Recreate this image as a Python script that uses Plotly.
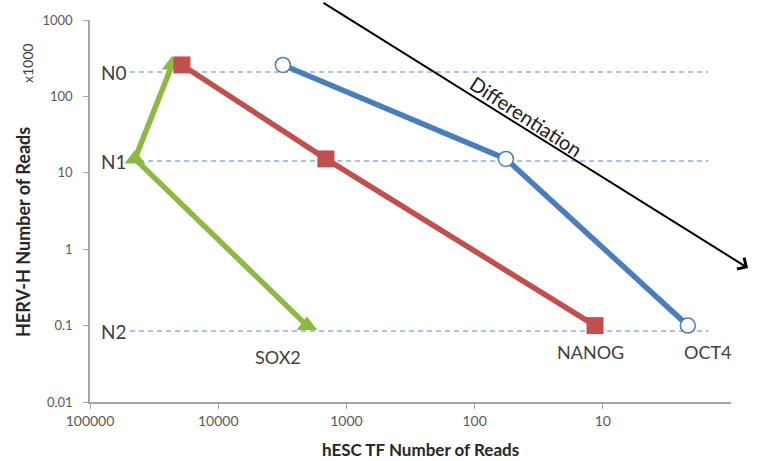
import plotly.graph_objects as go

# ---- data ----
sox2_x = [22900, 44600, 2030]
sox2_y = [258, 15.2, 0.1]
nanog_x = [19200, 1445, 11.5]
nanog_y = [258, 15.2, 0.1]
oct4_x = [3130, 57, 2.17]
oct4_y = [258, 15.2, 0.1]

level_names = ["N0", "N1", "N2"]
level_values = [208, 14.3, 0.085]
level_x_span = [48700, 1.5]

x_tick_vals = [100000, 10000, 1000, 100, 10]
x_tick_text = ["100000", "10000", "1000", "100", "10"]
y_tick_vals = [1000, 100, 10, 1, 0.1, 0.01]
y_tick_text = ["1000", "100", "10", "1", "0.1", "0.01"]

GREEN = "#8DB843"
RED = "#C0504D"
BLUE = "#4A7EBB"
DASH = "#8EAEDC"
FONT = "Lato"

L, R, T, B = 90, 27, 20, 59
W, H = 758, 461
PW, PH = W - L - R, H - T - B


def px(xp):
    return (xp - L) / PW


def py(yp):
    return (H - B - yp) / PH


fig = go.Figure()

for name, val in zip(level_names, level_values):
    fig.add_trace(go.Scatter(
        x=level_x_span, y=[val, val], mode="lines",
        line=dict(color=DASH, width=1.5, dash="5px,4px"),
        hoverinfo="skip", showlegend=False))

fig.add_trace(go.Scatter(
    x=sox2_x, y=sox2_y, mode="lines+markers", name="SOX2",
    line=dict(color=GREEN, width=5.5),
    marker=dict(symbol="triangle-up", size=18, color=GREEN),
    showlegend=False))
fig.add_trace(go.Scatter(
    x=nanog_x, y=nanog_y, mode="lines+markers", name="NANOG",
    line=dict(color=RED, width=5.5),
    marker=dict(symbol="square", size=17, color=RED),
    showlegend=False))
fig.add_trace(go.Scatter(
    x=oct4_x, y=oct4_y, mode="lines+markers", name="OCT4",
    line=dict(color=BLUE, width=5.5),
    marker=dict(symbol="circle", size=15, color="white",
                line=dict(color=BLUE, width=1.5)),
    showlegend=False))

annotations = []
# level labels
for name, yy in zip(level_names, [72, 161, 331]):
    annotations.append(dict(
        text=name, xref="paper", yref="paper",
        x=px(129), y=py(yy),
        xanchor="right", yanchor="middle", showarrow=False,
        font=dict(family=FONT, size=19, color="#404040")))

# series labels
for txt, xx, yy in [("SOX2", 278, 357), ("NANOG", 590, 352), ("OCT4", 708, 352)]:
    annotations.append(dict(
        text=txt, xref="paper", yref="paper",
        x=px(xx), y=py(yy),
        xanchor="center", yanchor="middle", showarrow=False,
        font=dict(family=FONT, size=18, color="#404040")))

# Differentiation arrow
annotations.append(dict(
    text="", xref="paper", yref="paper",
    x=px(748), y=py(268),
    ax=322 - 748, ay=2 - 268, axref="pixel", ayref="pixel",
    showarrow=True, arrowhead=4, arrowsize=1.3, arrowwidth=2,
    arrowcolor="black"))
annotations.append(dict(
    text="Differentiation", xref="paper", yref="paper",
    x=px(526), y=py(116),
    xanchor="center", yanchor="middle", showarrow=False, textangle=33,
    font=dict(family=FONT, size=20, color="#202020")))

# axis titles
annotations.append(dict(
    text="<b>hESC TF Number of Reads</b>", xref="paper", yref="paper",
    x=px(420), y=py(449),
    xanchor="center", yanchor="middle", showarrow=False,
    font=dict(family=FONT, size=17, color="#262626")))
annotations.append(dict(
    text="<b>HERV-H Number of Reads</b>", xref="paper", yref="paper",
    x=px(23), y=py(232),
    xanchor="center", yanchor="middle", showarrow=False, textangle=-90,
    font=dict(family=FONT, size=18, color="#262626")))
annotations.append(dict(
    text="x1000", xref="paper", yref="paper",
    x=px(27), y=py(64),
    xanchor="center", yanchor="middle", showarrow=False, textangle=-90,
    font=dict(family=FONT, size=14, color="#404040")))

fig.update_layout(
    width=W, height=H,
    margin=dict(l=L, r=R, t=T, b=B),
    paper_bgcolor="white", plot_bgcolor="white",
    annotations=annotations,
    font=dict(family=FONT),
)
fig.update_xaxes(
    type="log", range=[5, 0], tickvals=x_tick_vals, ticktext=x_tick_text,
    showgrid=False, zeroline=False, showline=True, linecolor="#A6A6A6",
    linewidth=1.5, ticks="outside", ticklen=5, tickcolor="#A6A6A6",
    tickfont=dict(family=FONT, size=14, color="#595959"))
fig.update_yaxes(
    type="log", range=[-2, 3], tickvals=y_tick_vals, ticktext=y_tick_text,
    showgrid=False, zeroline=False, showline=True, linecolor="#A6A6A6",
    linewidth=1.5, ticks="outside", ticklen=5, tickcolor="#A6A6A6",
    ticklabelstandoff=8,
    tickfont=dict(family=FONT, size=13, color="#595959"))

fig.write_html("out.html", config={"displayModeBar": False},
               post_script="document.body.style.margin='0';document.body.style.overflow='hidden';")
